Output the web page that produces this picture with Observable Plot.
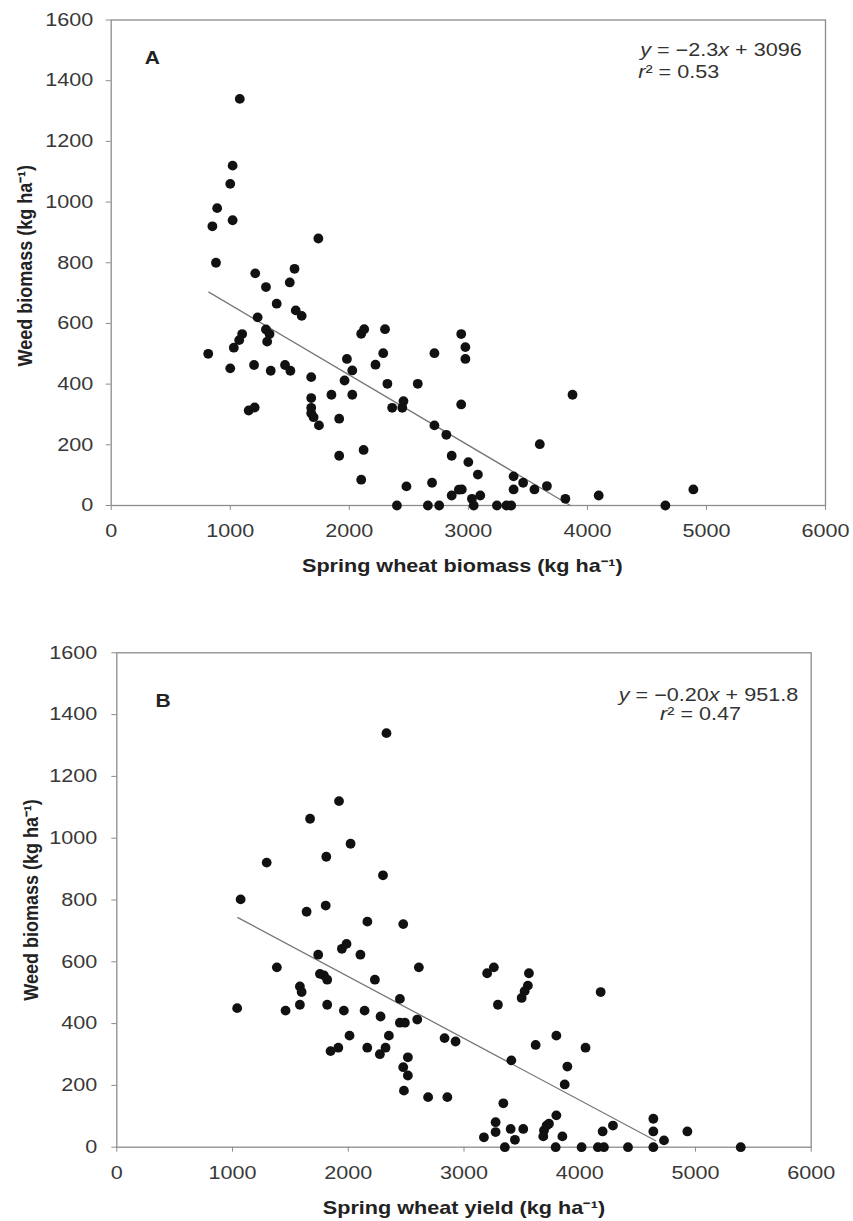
<!DOCTYPE html>
<html><head><meta charset="utf-8">
<script src="https://cdn.jsdelivr.net/npm/d3@7"></script>
<script src="https://cdn.jsdelivr.net/npm/@observablehq/plot@0.6"></script>
<style>
html,body{margin:0;padding:0;background:#fff;}
#chart svg{display:block;}
</style></head><body><div id="chart"></div>
<script>
// ---- data ----
const xTicks = [0, 1000, 2000, 3000, 4000, 5000, 6000];
const yTicks = [0, 200, 400, 600, 800, 1000, 1200, 1400, 1600];

// Panel A: spring wheat biomass vs weed biomass
const biomassA = [1080,1020,1000,890,850,1020,880,1740,1210,1300,1500,1540,1390,1550,1600,1230,1300,1330,1310,1100,1075,1030,815,1000,1200,1340,1460,1505,1680,1680,1680,1680,1700,1745,1155,1205,1850,1915,1915,1980,1960,2025,2025,2100,2125,2120,2100,2220,2285,2300,2320,2360,2445,2455,2575,2400,2480,2660,2695,2715,2940,2715,2975,2975,2940,2815,2860,3000,3080,2860,2920,2945,3030,3045,3100,2755,3240,3320,3360,3380,3380,3460,3555,3600,3660,3815,3875,4095,4655,4890];
const weedA    = [1340,1120,1060,980,920,940,800,880,765,720,735,780,665,643,625,620,580,565,540,565,545,520,500,452,463,444,463,444,423,354,322,304,291,264,313,323,365,286,164,483,412,445,365,566,581,183,85,464,502,581,401,322,322,344,401,0,63,0,75,264,565,502,522,483,333,233,164,143,102,33,52,53,22,0,33,0,0,0,0,96,53,75,53,202,64,22,365,33,0,53];

// Panel B: spring wheat yield vs weed biomass
const yieldB = [2330,1920,1670,2020,1810,1295,2300,1070,1805,1640,2165,2475,1945,1985,2105,1740,2610,1383,2230,1755,1790,1818,1582,1597,1582,1458,1040,1818,1962,2141,2279,2446,2446,2489,2596,2011,2351,1847,1914,2164,2273,2322,2515,2475,2515,2481,2690,3200,3258,3293,3561,3552,3524,3498,4181,2832,2927,3619,3798,4050,3409,3893,3870,2856,3340,3798,3734,3714,3691,3685,3850,3273,3273,3403,3512,3172,3440,3353,3792,4016,4157,4209,4198,4287,4417,4636,4636,4636,4728,4930,5391];
const weedB  = [1340,1120,1063,982,940,921,880,802,782,762,730,722,642,658,623,623,582,582,542,561,556,542,520,502,461,442,450,461,442,442,423,480,403,403,413,361,361,311,322,322,301,322,291,259,232,183,162,563,582,461,563,523,505,483,502,353,342,331,361,322,281,261,203,162,142,103,76,70,54,35,35,81,49,59,59,32,24,0,0,0,0,0,51,70,0,92,51,0,22,51,0];

// fitted regression lines (end points)
const fitAx = [820, 3857], fitAy = [703, 0];
const fitBx = [1046, 4656], fitBy = [743, 21];

const eqA = ["y = −2.3x + 3096", "r² = 0.53"];
const eqB = ["y = −0.20x + 951.8", "r² = 0.47"];
const letters = ["A", "B"];
const xLabels = ["Spring wheat biomass (kg ha⁻¹)", "Spring wheat yield (kg ha⁻¹)"];
const yLabel = "Weed biomass (kg ha⁻¹)";

// ---- drawing ----
const FONT = "'Liberation Sans', Arial, Helvetica, sans-serif";
const STRETCH = 1.2;

function pts(xs, ys) { return xs.map((x, i) => ({x, y: ys[i]})); }

function italicize(svg, strings) {
  svg.querySelectorAll("text").forEach(t => {
    const s = t.textContent;
    if (!strings.includes(s)) return;
    t.textContent = "";
    for (const part of s.split(/([xyr])/)) {
      if (!part) continue;
      const ts = document.createElementNS("http://www.w3.org/2000/svg", "tspan");
      if (/^[xyr]$/.test(part)) ts.setAttribute("font-style", "italic");
      ts.textContent = part;
      t.appendChild(ts);
    }
  });
}
function stretch(svg) {
  svg.querySelectorAll("text").forEach(t => {
    const tr = t.getAttribute("transform") || "";
    if (/rotate/.test(tr)) t.setAttribute("transform", tr + " scale(1,1.08)");
    else t.setAttribute("transform", tr + ` scale(${STRETCH},1)`);
  });
}

function panel(cfg) {
  const svg = Plot.plot({
    width: 853, height: cfg.h,
    marginTop: cfg.mt, marginRight: cfg.mr, marginBottom: cfg.mb, marginLeft: cfg.ml,
    x: {domain: [0, 6000]}, y: {domain: [0, 1600]},
    style: {fontFamily: FONT, fontSize: "18px", color: "#333", background: "white", overflow: "visible"},
    marks: [
      Plot.frame({stroke: "#8c8c8c", strokeWidth: 1.3}),
      Plot.axisX({ticks: xTicks, tickSize: 5, tickPadding: 14, stroke: "#8c8c8c", fill: "#383838", label: null, tickFormat: d3.format("d")}),
      Plot.axisY({ticks: yTicks, tickSize: 5, tickPadding: cfg.padY, stroke: "#8c8c8c", fill: "#383838", label: null, tickFormat: d3.format("d")}),
      Plot.line(pts(cfg.fx, cfg.fy), {x: "x", y: "y", stroke: "#777", strokeWidth: 1.3}),
      Plot.dot(pts(cfg.xs, cfg.ys), {x: "x", y: "y", r: 4.9, fill: "#111"}),
      Plot.text([cfg.letter], {text: d => d, frameAnchor: "top-left", dx: cfg.ldx, dy: cfg.ldy, textAnchor: "middle", lineAnchor: "middle", fontWeight: "bold", fontSize: 17.5, fill: "#222"}),
      Plot.text([cfg.eq[0]], {text: d => d, frameAnchor: "top-left", dx: cfg.e1[0], dy: cfg.e1[1], textAnchor: cfg.eAnchor, lineAnchor: "middle", fontSize: 18, fill: "#333"}),
      Plot.text([cfg.eq[1]], {text: d => d, frameAnchor: "top-left", dx: cfg.e2[0], dy: cfg.e2[1], textAnchor: cfg.eAnchor, lineAnchor: "middle", fontSize: 18, fill: "#333"}),
      Plot.text([cfg.xLabel], {text: d => d, frameAnchor: "bottom", dx: cfg.xldx, dy: 61, textAnchor: "middle", lineAnchor: "middle", fontWeight: "bold", fontSize: 18, fill: "#222"}),
      Plot.text([yLabel], {text: d => d, frameAnchor: "left", dx: -85, dy: cfg.yldy, rotate: -90, textAnchor: "middle", lineAnchor: "middle", fontWeight: "bold", fontSize: 18, fill: "#222"})
    ]
  });
  italicize(svg, cfg.eq);
  stretch(svg);
  return svg;
}

const chart = document.getElementById("chart");
chart.appendChild(panel({
  h: 600, mt: 19.5, mr: 28, mb: 95, ml: 110.7, padY: 13,
  xs: biomassA, ys: weedA, fx: fitAx, fy: fitAy,
  letter: letters[0], ldx: 41, ldy: 38.3,
  eq: eqA, eAnchor: "start", e1: [529, 30.5], e2: [527, 52],
  xLabel: xLabels[0], xldx: -6, yldy: 3
}));
chart.appendChild(panel({
  h: 621, mt: 52.3, mr: 42.3, mb: 74.3, ml: 116.3, padY: 14.6,
  xs: yieldB, ys: weedB, fx: fitBx, fy: fitBy,
  letter: letters[1], ldx: 46.2, ldy: 48.5,
  eq: eqB, eAnchor: "middle", e1: [591.7, 42], e2: [583.7, 61.5],
  xLabel: xLabels[1], xldx: 0, yldy: 0
}));
</script></body></html>
